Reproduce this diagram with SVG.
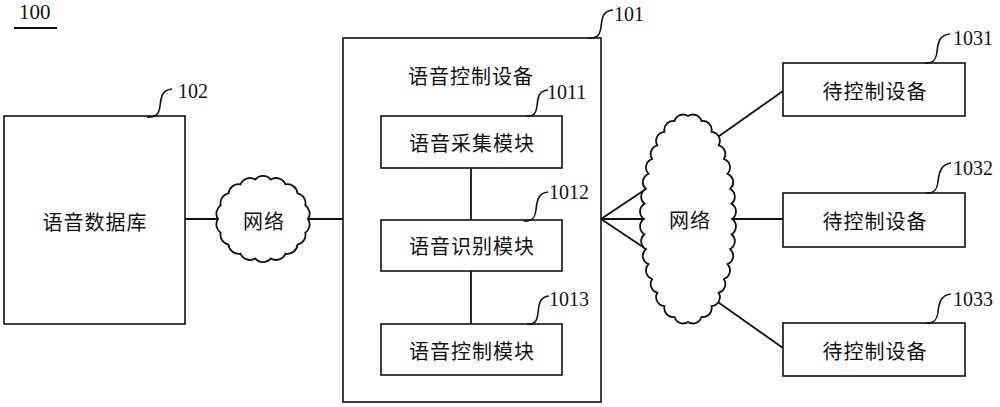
<svg xmlns="http://www.w3.org/2000/svg" width="1000" height="407" viewBox="0 0 1000 407">
<style>
.box{fill:#fff;stroke:#111;stroke-width:1.6}
.cloud{fill:#fff;stroke:#111;stroke-width:1.8}
.ln{fill:none;stroke:#111;stroke-width:1.8}
.ld{fill:none;stroke:#111;stroke-width:1.6}
.zh{font-family:"Noto Sans CJK SC","Noto Sans CJK JP",sans-serif;font-size:20px;fill:#111;text-anchor:middle;dominant-baseline:central;letter-spacing:1px}
.num{font-family:"Liberation Serif",serif;font-size:20px;fill:#111}
</style>
<rect width="1000" height="407" fill="#fff"/>
<g id="title">
<text class="num" x="19" y="19" style="font-size:21px">100</text>
<line x1="14" y1="28" x2="57" y2="28" stroke="#111" stroke-width="2"/>
</g>
<g id="node-102">
<rect class="box" x="4" y="116" width="181" height="208"/>
<text class="zh" x="95" y="221">语音数据库</text>
<path class="ld" d="M147 117 C156 118 159 114 160 106 C161 97 162 90 172 89"/>
<text class="num" x="178" y="98">102</text>
</g>
<g id="node-101">
<rect class="box" x="343" y="38" width="258" height="364"/>
<text class="zh" x="471" y="75">语音控制设备</text>
<path class="ld" d="M588 38 C597 39 600 35 601 27 C602 17 603 11 613 10"/>
<text class="num" x="614" y="21">101</text>
</g>
<g id="connectors">
<line class="ln" x1="185" y1="219" x2="219" y2="219"/>
<line class="ln" x1="307" y1="219" x2="343" y2="219"/>
<line class="ln" x1="471" y1="168" x2="471" y2="220"/>
<line class="ln" x1="471" y1="271" x2="471" y2="324"/>
<line class="ln" x1="601" y1="219" x2="646" y2="189"/>
<line class="ln" x1="601" y1="219" x2="645" y2="219"/>
<line class="ln" x1="601" y1="219" x2="646" y2="249"/>
<line class="ln" x1="715" y1="139" x2="783" y2="91"/>
<line class="ln" x1="731" y1="219" x2="783" y2="219"/>
<line class="ln" x1="715" y1="300" x2="783" y2="348"/>
</g>
<g id="cloud-small">
<path class="cloud" d="M308 219 A10 10 0 0 1 305.3 232.7 A10 10 0 0 1 297.5 244.7 A10 10 0 0 1 285.5 253.6 A10 10 0 0 1 270.8 258.4 A10 10 0 0 1 255.2 258.4 A10 10 0 0 1 240.5 253.6 A10 10 0 0 1 228.5 244.7 A10 10 0 0 1 220.7 232.7 A10 10 0 0 1 218 219 A10 10 0 0 1 220.7 205.3 A10 10 0 0 1 228.5 193.3 A10 10 0 0 1 240.5 184.4 A10 10 0 0 1 255.2 179.6 A10 10 0 0 1 270.8 179.6 A10 10 0 0 1 285.5 184.4 A10 10 0 0 1 297.5 193.3 A10 10 0 0 1 305.3 205.3 A10 10 0 0 1 308 219 Z"/>
<text class="zh" x="264" y="220">网络</text>
</g>
<g id="node-1011">
<rect class="box" x="381" y="116" width="181" height="52"/>
<text class="zh" x="472" y="142">语音采集模块</text>
<path class="ld" d="M526 116 C534 117 536 113 537 106 C538 96 539 91 548 90"/>
<text class="num" x="547" y="99">1011</text>
</g>
<g id="node-1012">
<rect class="box" x="381" y="220" width="181" height="51"/>
<text class="zh" x="472" y="245">语音识别模块</text>
<path class="ld" d="M524 221 C532 222 535 218 536 210 C537 199 539 193 548 192"/>
<text class="num" x="549" y="199">1012</text>
</g>
<g id="node-1013">
<rect class="box" x="381" y="324" width="181" height="51"/>
<text class="zh" x="472" y="350">语音控制模块</text>
<path class="ld" d="M527 324 C535 325 537 321 538 313 C539 303 540 297 549 296"/>
<text class="num" x="549" y="306">1013</text>
</g>
<g id="cloud-large">
<path class="cloud" d="M732 219 A9 9 0 0 1 731.5 234.2 A9 9 0 0 1 730.1 249.1 A9 9 0 0 1 727.5 264.2 A9 9 0 0 1 723.8 279 A9 9 0 0 1 718.7 292.7 A9 9 0 0 1 711.5 306.1 A9 9 0 0 1 701.5 317 A9 9 0 0 1 688 322 A9 9 0 0 1 674.5 317 A9 9 0 0 1 664.5 306.1 A9 9 0 0 1 657.3 292.7 A9 9 0 0 1 652.2 279 A9 9 0 0 1 648.5 264.2 A9 9 0 0 1 645.9 249.1 A9 9 0 0 1 644.5 234.2 A9 9 0 0 1 644 219 A9 9 0 0 1 644.5 203.8 A9 9 0 0 1 645.9 188.9 A9 9 0 0 1 648.5 173.8 A9 9 0 0 1 652.2 159 A9 9 0 0 1 657.3 145.3 A9 9 0 0 1 664.5 131.9 A9 9 0 0 1 674.5 121 A9 9 0 0 1 688 116 A9 9 0 0 1 701.5 121 A9 9 0 0 1 711.5 131.9 A9 9 0 0 1 718.7 145.3 A9 9 0 0 1 723.8 159 A9 9 0 0 1 727.5 173.8 A9 9 0 0 1 730.1 188.9 A9 9 0 0 1 731.5 203.8 A9 9 0 0 1 732 219 Z"/>
<text class="zh" x="690" y="219">网络</text>
</g>
<g id="node-1031">
<rect class="box" x="783" y="63" width="182" height="53"/>
<text class="zh" x="875" y="90">待控制设备</text>
<path class="ld" d="M925 63 C933 64 936 60 937 52 C938 41 940 35 950 34"/>
<text class="num" x="953" y="45">1031</text>
</g>
<g id="node-1032">
<rect class="box" x="783" y="193" width="182" height="54"/>
<text class="zh" x="875" y="220">待控制设备</text>
<path class="ld" d="M926 193 C934 194 937 190 938 182 C939 171 942 164 951 163"/>
<text class="num" x="953" y="175">1032</text>
</g>
<g id="node-1033">
<rect class="box" x="783" y="323" width="182" height="53"/>
<text class="zh" x="875" y="350">待控制设备</text>
<path class="ld" d="M926 323 C934 324 937 320 938 312 C939 301 942 295 951 294"/>
<text class="num" x="953" y="306">1033</text>
</g>
</svg>
